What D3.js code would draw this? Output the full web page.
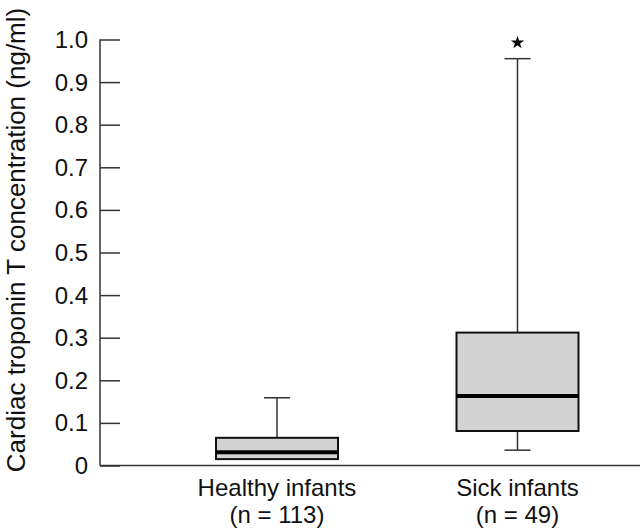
<!DOCTYPE html>
<html>
<head>
<meta charset="utf-8">
<script src="https://cdn.jsdelivr.net/npm/d3@7/dist/d3.min.js"></script>
<style>
  html, body { margin: 0; padding: 0; background: #fff; }
  svg { display: block; }
  text { font-family: "Liberation Sans", Arial, sans-serif; fill: #111; }
</style>
</head>
<body>
<svg id="chart" width="640" height="532"></svg>
<script>
// ---- data ----
const categories = ["Healthy infants", "Sick infants"];
const sampleSizes = ["(n = 113)", "(n = 49)"];
const whiskerLow = [0.015, 0.036];
const q1 = [0.015, 0.081];
const median = [0.031, 0.163];
const q3 = [0.065, 0.312];
const whiskerHigh = [0.159, 0.955];
const significant = [false, true];
const yTicks = [0, 0.1, 0.2, 0.3, 0.4, 0.5, 0.6, 0.7, 0.8, 0.9, 1.0];
const yTitle = "Cardiac troponin T concentration (ng/ml)";

const boxes = categories.map((c, i) => ({
  cat: c, n: sampleSizes[i], lo: whiskerLow[i], q1: q1[i], med: median[i],
  q3: q3[i], hi: whiskerHigh[i], sig: significant[i]
}));

// ---- layout ----
const svg = d3.select("#chart");
const axisX = 100, axisY = 465.5, topY = 39.5, rightX = 640;
const y = d3.scaleLinear().domain([0, 1]).range([axisY, topY]);
const x = d3.scalePoint().domain(categories).range([277, 517.5]);
const boxW = 122, capW = 26;

// y axis with inward ticks
const yAxis = d3.axisRight(y).tickValues(yTicks).tickSize(20).tickFormat(() => "");
const gy = svg.append("g").attr("transform", `translate(${axisX},0)`).call(yAxis);
gy.select(".domain").remove();
gy.selectAll(".tick line").attr("stroke", "#333").attr("stroke-width", 1.5);
svg.append("line").attr("x1", axisX).attr("x2", axisX).attr("y1", y(1)).attr("y2", axisY)
  .attr("stroke", "#333").attr("stroke-width", 1.5);

// tick labels
svg.append("g").selectAll("text").data(yTicks).join("text")
  .attr("x", 88).attr("y", d => y(d) + 8.5)
  .attr("text-anchor", "end").attr("font-size", 24)
  .text(d => d === 0 ? "0" : d3.format(".1f")(d));

// x axis line
svg.append("line").attr("x1", axisX).attr("x2", rightX).attr("y1", axisY).attr("y2", axisY)
  .attr("stroke", "#333").attr("stroke-width", 1.5);

// category labels
const gl = svg.append("g");
gl.selectAll("text.cat").data(boxes).join("text").attr("class", "cat")
  .attr("x", d => x(d.cat)).attr("y", 496).attr("text-anchor", "middle").attr("font-size", 24)
  .text(d => d.cat);
gl.selectAll("text.n").data(boxes).join("text").attr("class", "n")
  .attr("x", d => x(d.cat)).attr("y", 523).attr("text-anchor", "middle").attr("font-size", 24)
  .text(d => d.n);

// y title
svg.append("text")
  .attr("transform", `translate(25,240) rotate(-90)`)
  .attr("text-anchor", "middle").attr("font-size", 26)
  .text(yTitle);

// boxes
const g = svg.append("g");
boxes.forEach(b => {
  const cx = x(b.cat);
  // whiskers
  if (b.hi > b.q3) {
    g.append("line").attr("x1", cx).attr("x2", cx).attr("y1", y(b.q3)).attr("y2", y(b.hi))
      .attr("stroke", "#333").attr("stroke-width", 1.5);
    g.append("line").attr("x1", cx - capW / 2).attr("x2", cx + capW / 2).attr("y1", y(b.hi)).attr("y2", y(b.hi))
      .attr("stroke", "#333").attr("stroke-width", 1.5);
  }
  if (b.lo < b.q1) {
    g.append("line").attr("x1", cx).attr("x2", cx).attr("y1", y(b.q1)).attr("y2", y(b.lo))
      .attr("stroke", "#333").attr("stroke-width", 1.5);
    g.append("line").attr("x1", cx - capW / 2).attr("x2", cx + capW / 2).attr("y1", y(b.lo)).attr("y2", y(b.lo))
      .attr("stroke", "#333").attr("stroke-width", 1.5);
  }
  g.append("rect").attr("x", cx - boxW / 2).attr("width", boxW)
    .attr("y", y(b.q3)).attr("height", y(b.q1) - y(b.q3))
    .attr("fill", "#d3d3d3").attr("stroke", "#111").attr("stroke-width", 2);
  g.append("line").attr("x1", cx - boxW / 2).attr("x2", cx + boxW / 2)
    .attr("y1", y(b.med)).attr("y2", y(b.med))
    .attr("stroke", "#000").attr("stroke-width", 4);
  if (b.sig) {
    const star = d3.symbol().type(d3.symbolStar).size(55);
    g.append("path").attr("d", star()).attr("fill", "#000")
      .attr("transform", `translate(${cx},${y(b.hi) - 16})`);
  }
});
</script>
</body>
</html>
